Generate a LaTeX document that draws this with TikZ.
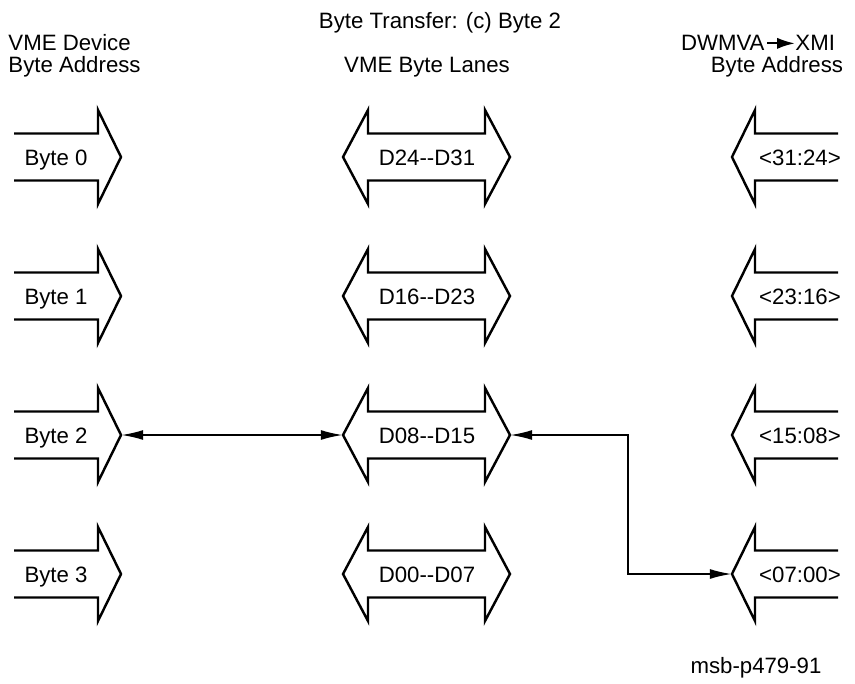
\documentclass[tikz,border=0pt]{standalone}
\usepackage{fontspec}
\setmainfont{Liberation Sans}
\usetikzlibrary{arrows.meta}

\begin{document}
\begin{tikzpicture}[x=0.45pt,y=-0.45pt,
  lane/.style={draw=black,line width=1.1pt,line join=miter},
  label/.style={font=\fontsize{10}{10}\selectfont,inner sep=0pt,anchor=base},
  link/.style={{Latex[length=10pt,width=4.5pt]}-{Latex[length=10pt,width=4.5pt]},line width=0.9pt}
]
  \useasboundingbox (0,0) rectangle (855,683);
  % headings
  \node[label] (title) at (440,28) {Byte Transfer: (c) Byte 2};
  \node[label,anchor=base west] (devhead1) at (8,51) {VME Device};
  \node[label,anchor=base west] (devhead2) at (8,72) {Byte Address};
  \node[label] (lanehead) at (427,72) {VME Byte Lanes};
  \node[label,anchor=base east] (dwmva) at (765,51) {DWMVA};
  \node[label,anchor=base west] (xmi) at (795,51) {XMI};
  \draw[-{Latex[length=8pt,width=5pt]},line width=1pt] (dwmva.east) ++(2,0) -- (xmi.west);
  \node[label] (xmihead2) at (777,72) {Byte Address};
  % one row per byte
  \foreach \dev/\lane/\xmi [count=\i from 0] in
      {Byte 0/D24-{}-D31/<31:24>, Byte 1/D16-{}-D23/<23:16>,
       Byte 2/D08-{}-D15/<15:08>, Byte 3/D00-{}-D07/<07:00>}{
    \pgfmathsetmacro\yc{157+139*\i}
    % device side
    \draw[lane] (14,\yc-23.5) -- (98,\yc-23.5) -- (98,\yc-47) -- (121,\yc)
      -- (98,\yc+47) -- (98,\yc+23.5) -- (14,\yc+23.5);
    \coordinate (dev\i) at (121,\yc);
    \node[label] (devlbl\i) at (56,\yc+8) {\dev};
    % byte lanes
    \draw[lane] (368,\yc-23.5) -- (485,\yc-23.5) -- (485,\yc-47) -- (510,\yc)
      -- (485,\yc+47) -- (485,\yc+23.5) -- (368,\yc+23.5) -- (368,\yc+47)
      -- (343,\yc) -- (368,\yc-47) -- cycle;
    \coordinate (laneL\i) at (343,\yc);
    \coordinate (laneR\i) at (510,\yc);
    \node[label] (lanelbl\i) at (427,\yc+8) {\lane};
    % XMI side
    \draw[lane] (838,\yc-23.5) -- (755,\yc-23.5) -- (755,\yc-47) -- (732,\yc)
      -- (755,\yc+47) -- (755,\yc+23.5) -- (838,\yc+23.5);
    \coordinate (xmi\i) at (732,\yc);
    \node[label] (xmilbl\i) at (800,\yc+8) {\xmi};
  }
  % transfer paths
  \draw[link] (dev2) -- (laneL2);
  \draw[link] (laneR2) -- ++(118,0) |- (xmi3);
  \node[label] (figid) at (756,673) {msb-p479-91};
\end{tikzpicture}
\end{document}
